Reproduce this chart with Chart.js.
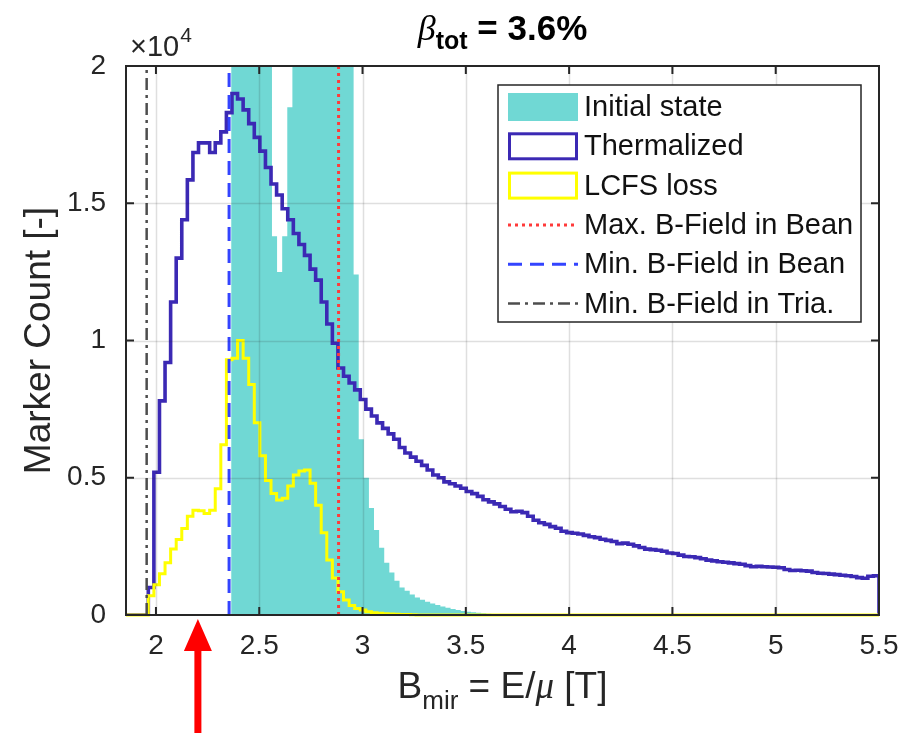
<!DOCTYPE html>
<html>
<head>
<meta charset="utf-8">
<script src="https://cdn.jsdelivr.net/npm/chart.js@4.4.1/dist/chart.umd.min.js"></script>
<style>
  html, body { margin: 0; padding: 0; background: #fff; }
  #wrap { width: 903px; height: 733px; }
</style>
</head>
<body>
<div id="wrap"><canvas id="chart" width="903" height="733"></canvas></div>
<script>
// histogram values are in units of 1e4 markers (axis shows x10^4)
const thermBinStart = 1.855;
const thermBinWidth = 0.027;
const thermalized = [
  0, 0, 0, 0, 0.10, 0.52, 0.78, 0.92, 1.14, 1.30,
  1.44, 1.585, 1.685, 1.72, 1.72, 1.685, 1.72, 1.76, 1.83, 1.90,
  1.88, 1.84, 1.79, 1.74, 1.69, 1.63, 1.57, 1.53, 1.48, 1.44,
  1.39, 1.35, 1.31, 1.26, 1.22, 1.14, 1.06, 0.99, 0.90, 0.87,
  0.845, 0.82, 0.785, 0.75, 0.725, 0.70, 0.68, 0.66, 0.64, 0.61,
  0.59, 0.575, 0.56, 0.545, 0.528, 0.51, 0.50, 0.485, 0.478, 0.47,
  0.462, 0.45, 0.442, 0.432, 0.42, 0.412, 0.405, 0.395, 0.385, 0.376,
  0.378, 0.373, 0.36, 0.345, 0.336, 0.33, 0.322, 0.316, 0.305, 0.30,
  0.298, 0.295, 0.29, 0.285, 0.282, 0.276, 0.272, 0.268, 0.26, 0.262,
  0.258, 0.252, 0.246, 0.24, 0.238, 0.236, 0.232, 0.226, 0.224, 0.218,
  0.213, 0.212, 0.209, 0.205, 0.20, 0.197, 0.194, 0.192, 0.19, 0.187,
  0.185, 0.18, 0.176, 0.177, 0.176, 0.175, 0.174, 0.172, 0.166, 0.162,
  0.163, 0.161, 0.16, 0.155, 0.152, 0.151, 0.149, 0.147, 0.145, 0.143,
  0.14, 0.136, 0.134, 0.141, 0.143
];
const lcfsLoss = [
  0, 0, 0, 0, 0.07, 0.11, 0.15, 0.19, 0.24, 0.275,
  0.315, 0.36, 0.382, 0.38, 0.37, 0.382, 0.46, 0.62, 0.93, 0.935,
  1.0, 0.935, 0.84, 0.70, 0.58, 0.49, 0.443, 0.419, 0.425, 0.47,
  0.51, 0.525, 0.528, 0.48, 0.40, 0.30, 0.20, 0.135, 0.085, 0.055,
  0.035, 0.024, 0.018, 0.012, 0.008, 0.006, 0.005, 0.004, 0.003, 0.002,
  0.002, 0.001, 0, 0, 0, 0, 0, 0, 0, 0,
  0, 0, 0, 0, 0, 0, 0, 0, 0, 0,
  0, 0, 0, 0, 0, 0, 0, 0, 0, 0,
  0, 0, 0, 0, 0, 0, 0, 0, 0, 0,
  0, 0, 0, 0, 0, 0, 0, 0, 0, 0,
  0, 0, 0, 0, 0, 0, 0, 0, 0, 0,
  0, 0, 0, 0, 0, 0, 0, 0, 0, 0,
  0, 0, 0, 0, 0, 0, 0, 0, 0, 0,
  0, 0, 0, 0, 0
];
const initBinStart = 2.364;
const initBinWidth = 0.0247;
const initialState = [
  2.5, 2.8, 3.0, 2.9, 2.7, 2.6, 2.4, 2.2, 1.38, 1.25,
  1.38, 1.85, 2.3, 2.6, 2.8, 2.9, 3.0, 2.9, 2.8, 2.6,
  2.5, 2.4, 2.2, 2.05, 1.24, 0.64, 0.50, 0.39, 0.31, 0.245,
  0.19, 0.155, 0.125, 0.10, 0.088, 0.075, 0.064, 0.056, 0.048, 0.042,
  0.036, 0.031, 0.026, 0.022, 0.018, 0.015, 0.012, 0.010, 0.008, 0.006,
  0.005, 0.004, 0.003, 0.002, 0.001
];

const maxBBean = 2.884;
const minBBean = 2.354;
const minBTria = 1.955;
const arrowB = 2.203;

const xTickValues = [2, 2.5, 3, 3.5, 4, 4.5, 5, 5.5];
const xTickLabels = ['2', '2.5', '3', '3.5', '4', '4.5', '5', '5.5'];
const yTickValues = [0, 0.5, 1, 1.5, 2];
const yTickLabels = ['0', '0.5', '1', '1.5', '2'];
const legendLabels = ['Initial state', 'Thermalized', 'LCFS loss',
  'Max. B-Field in Bean', 'Min. B-Field in Bean', 'Min. B-Field in Tria.'];

const SANS = '"Liberation Sans", Arial, Helvetica, sans-serif';
const AX = '#262626';
const TICK_FONT = 28;

// outline points for a stairs histogram: one point per bin left edge,
// drawn with stepped: 'before' (flat across the bin, then the jump)
function stairs(start, width, values) {
  const pts = [{ x: start, y: 0 }];
  values.forEach((v, i) => pts.push({ x: start + i * width, y: v }));
  const end = start + values.length * width;
  pts.push({ x: end, y: values[values.length - 1] });
  pts.push({ x: end, y: 0 });
  return pts;
}
function vline(x) {
  return [{ x: x, y: 0 }, { x: x, y: 2 }];
}

const colors = {
  initial: '#70d8d4',
  therm: '#3b29b4',
  lcfs: '#ffff00',
  maxB: '#ff3a3a',
  minB: '#3344ff',
  tria: '#4d4d4d'
};

function drawRich(ctx, parts, cx, baseline) {
  let total = 0;
  parts.forEach(p => { ctx.font = p.font; total += ctx.measureText(p.t).width; });
  let x = cx - total / 2;
  ctx.textAlign = 'left';
  ctx.textBaseline = 'alphabetic';
  parts.forEach(p => {
    ctx.font = p.font;
    ctx.fillText(p.t, x, baseline + (p.dy || 0));
    x += ctx.measureText(p.t).width;
  });
}

const decor = {
  id: 'decor',
  afterDatasetsDraw(chart) {
    const { ctx, chartArea: a, scales } = chart;
    ctx.save();
    ctx.strokeStyle = 'rgba(38,38,38,0.15)';
    ctx.lineWidth = 1.5;
    xTickValues.forEach(v => {
      const px = Math.round(scales.x.getPixelForValue(v)) + 0.5;
      if (px > a.right - 2) return;
      ctx.beginPath(); ctx.moveTo(px, a.top); ctx.lineTo(px, a.bottom); ctx.stroke();
    });
    yTickValues.forEach(v => {
      const py = Math.round(scales.y.getPixelForValue(v)) + 0.5;
      if (py < a.top + 2 || py > a.bottom - 2) return;
      ctx.beginPath(); ctx.moveTo(a.left, py); ctx.lineTo(a.right, py); ctx.stroke();
    });
    ctx.restore();
  },
  afterDraw(chart) {
    const { ctx, chartArea: a, scales } = chart;
    ctx.save();
    // axes box + inward ticks
    ctx.strokeStyle = AX;
    ctx.lineWidth = 2;
    ctx.strokeRect(a.left, a.top, a.right - a.left, a.bottom - a.top);
    const tl = 8;
    ctx.beginPath();
    xTickValues.forEach(v => {
      const px = scales.x.getPixelForValue(v);
      ctx.moveTo(px, a.bottom); ctx.lineTo(px, a.bottom - tl);
      ctx.moveTo(px, a.top); ctx.lineTo(px, a.top + tl);
    });
    yTickValues.forEach(v => {
      const py = scales.y.getPixelForValue(v);
      ctx.moveTo(a.left, py); ctx.lineTo(a.left + tl, py);
      ctx.moveTo(a.right, py); ctx.lineTo(a.right - tl, py);
    });
    ctx.stroke();

    // x tick labels
    ctx.fillStyle = AX;
    ctx.font = TICK_FONT + 'px ' + SANS;
    ctx.textAlign = 'center';
    ctx.textBaseline = 'middle';
    xTickValues.forEach((v, i) => {
      ctx.fillText(xTickLabels[i], scales.x.getPixelForValue(v), a.bottom + 31);
    });

    // exponent label
    ctx.textAlign = 'left';
    ctx.textBaseline = 'alphabetic';
    ctx.font = '29px ' + SANS;
    ctx.fillText('\u00d710', a.left + 4, 56);
    const w10 = ctx.measureText('\u00d710').width;
    ctx.font = '21px ' + SANS;
    ctx.fillText('4', a.left + 4 + w10 + 1, 42);

    // title
    const cx = (a.left + a.right) / 2;
    ctx.fillStyle = '#000';
    drawRich(ctx, [
      { t: '\u03b2', font: 'italic 36px "Liberation Serif", serif' },
      { t: 'tot', font: 'bold 25px ' + SANS, dy: 9 },
      { t: ' = 3.6%', font: 'bold 35px ' + SANS }
    ], cx, 40);

    // x label
    ctx.fillStyle = AX;
    drawRich(ctx, [
      { t: 'B', font: '37px ' + SANS },
      { t: 'mir', font: '26px ' + SANS, dy: 11 },
      { t: ' = E/', font: '37px ' + SANS },
      { t: '\u03bc', font: 'italic 37px "Liberation Serif", serif' },
      { t: ' [T]', font: '37px ' + SANS }
    ], cx, 698);

    // y label
    ctx.save();
    ctx.translate(40, (a.top + a.bottom) / 2);
    ctx.rotate(-Math.PI / 2);
    ctx.font = '37px ' + SANS;
    ctx.textAlign = 'center';
    ctx.textBaseline = 'middle';
    ctx.fillText('Marker Count [-]', 0, 0);
    ctx.restore();

    // legend
    const lx = 498, ly = 85, lw = 363, lh = 237;
    ctx.fillStyle = '#fff';
    ctx.fillRect(lx, ly, lw, lh);
    ctx.strokeStyle = AX;
    ctx.lineWidth = 1.5;
    ctx.strokeRect(lx, ly, lw, lh);
    const rowH = 39.3;
    const sx0 = lx + 10, sx1 = lx + 80;
    legendLabels.forEach((label, k) => {
      const ry = ly + 22 + rowH * k;
      ctx.setLineDash([]);
      if (k === 0) {
        ctx.fillStyle = colors.initial;
        ctx.fillRect(sx0, ry - 14, sx1 - sx0, 28);
      } else if (k === 1 || k === 2) {
        ctx.strokeStyle = k === 1 ? colors.therm : colors.lcfs;
        ctx.lineWidth = 3;
        ctx.strokeRect(sx0 + 1.5, ry - 12.5, sx1 - sx0 - 3, 25);
      } else {
        const st = [
          { c: colors.maxB, d: [3, 4], w: 3 },
          { c: colors.minB, d: [14, 8], w: 3 },
          { c: colors.tria, d: [12, 5, 3, 5], w: 2.5 }
        ][k - 3];
        ctx.strokeStyle = st.c;
        ctx.lineWidth = st.w;
        ctx.setLineDash(st.d);
        ctx.beginPath(); ctx.moveTo(sx0, ry); ctx.lineTo(sx1, ry); ctx.stroke();
        ctx.setLineDash([]);
      }
      ctx.fillStyle = '#111';
      ctx.font = '29px ' + SANS;
      ctx.textAlign = 'left';
      ctx.textBaseline = 'middle';
      ctx.fillText(label, sx1 + 6, ry + 1);
    });

    // red arrow under the axis
    const ax = scales.x.getPixelForValue(arrowB);
    const tipY = a.bottom + 4, baseY = tipY + 32;
    ctx.fillStyle = '#ff0000';
    ctx.beginPath();
    ctx.moveTo(ax, tipY);
    ctx.lineTo(ax + 14, baseY);
    ctx.lineTo(ax + 3.5, baseY);
    ctx.lineTo(ax + 3.5, 733);
    ctx.lineTo(ax - 3.5, 733);
    ctx.lineTo(ax - 3.5, baseY);
    ctx.lineTo(ax - 14, baseY);
    ctx.closePath();
    ctx.fill();
    ctx.restore();
  }
};

new Chart(document.getElementById('chart'), {
  type: 'line',
  data: {
    datasets: [
      {
        label: legendLabels[0],
        data: stairs(initBinStart, initBinWidth, initialState),
        stepped: 'before',
        fill: 'origin',
        backgroundColor: colors.initial,
        borderWidth: 0,
        pointRadius: 0,
        order: 6
      },
      {
        label: legendLabels[1],
        data: stairs(thermBinStart, thermBinWidth, thermalized),
        stepped: 'before',
        borderColor: colors.therm,
        borderWidth: 3.6,
        pointRadius: 0,
        order: 5
      },
      {
        label: legendLabels[2],
        data: stairs(thermBinStart, thermBinWidth, lcfsLoss),
        stepped: 'before',
        borderColor: colors.lcfs,
        borderWidth: 3,
        pointRadius: 0,
        clip: { left: 0, right: 0, top: 0, bottom: 4 },
        order: 4
      },
      {
        label: legendLabels[3],
        data: vline(maxBBean),
        borderColor: colors.maxB,
        borderWidth: 3,
        borderDash: [3, 4],
        pointRadius: 0,
        order: 3
      },
      {
        label: legendLabels[4],
        data: vline(minBBean),
        borderColor: colors.minB,
        borderWidth: 3,
        borderDash: [14, 8],
        pointRadius: 0,
        order: 2
      },
      {
        label: legendLabels[5],
        data: vline(minBTria),
        borderColor: colors.tria,
        borderWidth: 2.5,
        borderDash: [12, 5, 3, 5],
        pointRadius: 0,
        order: 1
      }
    ]
  },
  options: {
    responsive: false,
    devicePixelRatio: 1,
    animation: false,
    layout: { padding: { left: 0, right: 24, top: 66, bottom: 0 } },
    plugins: { legend: { display: false }, tooltip: { enabled: false } },
    scales: {
      x: {
        type: 'linear',
        min: 1.855,
        max: 5.5,
        grid: { display: false },
        border: { display: false },
        afterBuildTicks: (scale) => { scale.ticks = xTickValues.map(v => ({ value: v })); },
        afterFit: (scale) => { scale.height = 118; },
        ticks: { display: false }
      },
      y: {
        type: 'linear',
        min: 0,
        max: 2,
        grid: { display: false },
        border: { display: false },
        afterBuildTicks: (scale) => { scale.ticks = yTickValues.map(v => ({ value: v })); },
        afterFit: (scale) => { scale.width = 126; },
        ticks: {
          autoSkip: false,
          padding: 12,
          color: AX,
          font: { size: TICK_FONT, family: SANS },
          callback: (value, index) => yTickLabels[index]
        }
      }
    }
  },
  plugins: [decor]
});
</script>
</body>
</html>
